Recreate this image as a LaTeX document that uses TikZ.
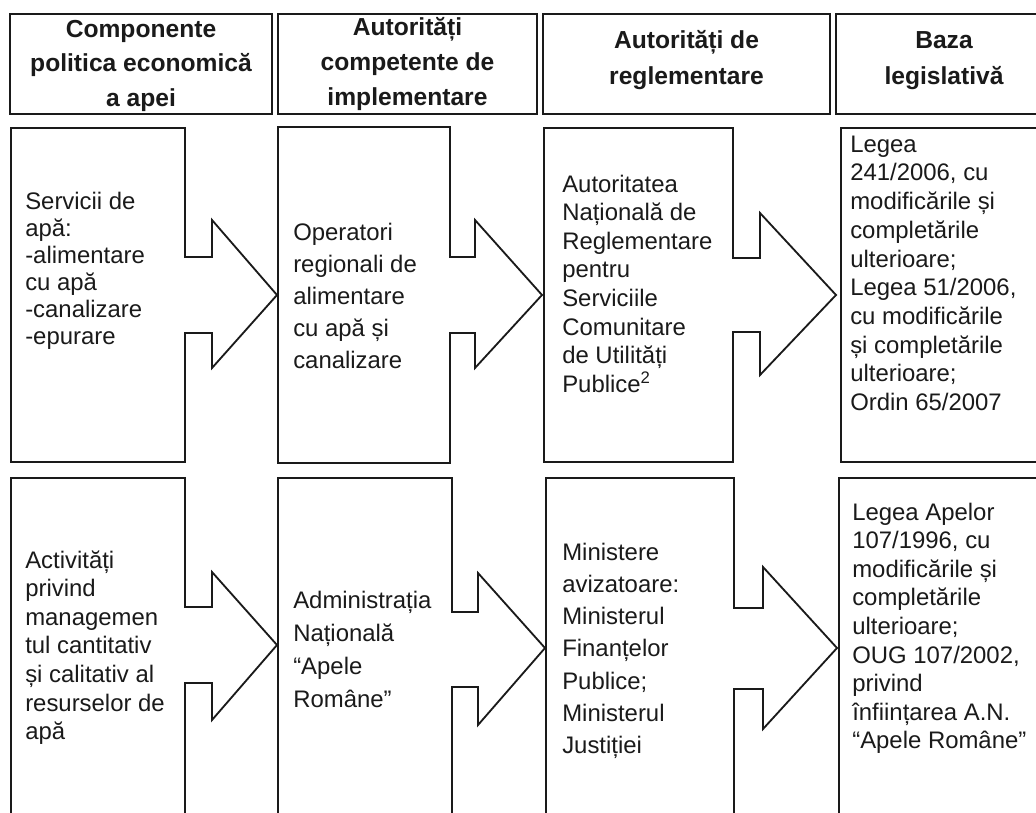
\documentclass[tikz,border=0pt]{standalone}
\usepackage{fontspec}
\setmainfont{Liberation Sans}
\definecolor{ink}{HTML}{1A1A1A}
\begin{document}
\begin{tikzpicture}[x=0.025cm,y=-0.025cm,
  shapeline/.style={draw=ink, line width=1.3pt, line join=miter, fill=white},
  headline/.style={draw=ink, line width=1.6pt},
  headtxt/.style={font=\fontsize{17.5}{#1}\selectfont\bfseries, anchor=north, inner sep=0pt, align=center, text=ink},
  bodytxt/.style={font=\fontsize{17}{#1}\selectfont, anchor=north west, inner sep=0pt, align=left, text=ink}]
\useasboundingbox (0,0) rectangle (1036,813);
\fill[white] (0,0) rectangle (1036,813);
\clip (0,0) rectangle (1036,813);

% header boxes
\draw[headline] (10,14) rectangle (272,114);
\draw[headline] (278,14) rectangle (537,114);
\draw[headline] (543,14) rectangle (830,114);
\draw[headline] (836,14) rectangle (1060,114);

\node[headtxt=24.6pt] (h1) at (141,16) {\rule{0pt}{15pt}Componente\\politica economică\\a apei};
\node[headtxt=24.8pt] (h2) at (407.5,14) {\rule{0pt}{15pt}Autorități\\competente de\\implementare};
\node[headtxt=25.6pt] (h3) at (686.5,27) {\rule{0pt}{15pt}Autorități de\\reglementare};
\node[headtxt=25.6pt] (h4) at (944,27) {\rule{0pt}{15pt}Baza\\legislativă};

% row 1 box-arrows
\draw[shapeline] (11,128) -- (185,128) -- (185,257) -- (212,257) -- (212,220) -- (277,295) -- (212,368) -- (212,333) -- (185,333) -- (185,462) -- (11,462) -- cycle;
\draw[shapeline] (278,127) -- (450,127) -- (450,257) -- (475,257) -- (475,220) -- (542,295) -- (475,368) -- (475,333) -- (450,333) -- (450,463) -- (278,463) -- cycle;
\draw[shapeline] (544,128) -- (733,128) -- (733,258) -- (760,258) -- (760,213) -- (836,295) -- (760,375) -- (760,332) -- (733,332) -- (733,462) -- (544,462) -- cycle;
\draw[shapeline] (841,128) rectangle (1060,462);

% row 2 box-arrows
\draw[shapeline] (11,478) -- (185,478) -- (185,607) -- (212,607) -- (212,572) -- (277,645) -- (212,720) -- (212,683) -- (185,683) -- (185,840) -- (11,840) -- cycle;
\draw[shapeline] (278,478) -- (452,478) -- (452,612) -- (478,612) -- (478,573) -- (545,648) -- (478,725) -- (478,687) -- (452,687) -- (452,840) -- (278,840) -- cycle;
\draw[shapeline] (546,478) -- (734,478) -- (734,608) -- (763,608) -- (763,567) -- (837,648) -- (763,729) -- (763,689) -- (734,689) -- (734,840) -- (546,840) -- cycle;
\draw[shapeline] (839,478) rectangle (1060,840);

% row 1 texts
\node[bodytxt=19.2pt] (t11) at (25,189.3) {\rule{0pt}{14pt}Servicii de\\apă:\\-alimentare\\cu apă\\-canalizare\\-epurare};
\node[bodytxt=22.8pt] (t12) at (293,220.3) {\rule{0pt}{14pt}Operatori\\regionali de\\alimentare\\cu apă și\\canalizare};
\node[bodytxt=20.3pt] (t13) at (562,172.3) {\rule{0pt}{14pt}Autoritatea\\Națională de\\Reglementare\\pentru\\Serviciile\\Comunitare\\de Utilități\\Publice\textsuperscript{2}};
\node[bodytxt=20.4pt] (t14) at (850,132.3) {\rule{0pt}{14pt}Legea\\241/2006, cu\\modificările și\\completările\\ulterioare;\\Legea 51/2006,\\cu modificările\\și completările\\ulterioare;\\Ordin 65/2007};

% row 2 texts
\node[bodytxt=20.3pt] (t21) at (25,548.3) {\rule{0pt}{14pt}Activități\\privind\\managemen\\tul cantitativ\\și calitativ al\\resurselor de\\apă};
\node[bodytxt=23.5pt] (t22) at (293,588.3) {\rule{0pt}{14pt}Administrația\\Națională\\“Apele\\Române”};
\node[bodytxt=22.9pt] (t23) at (562,540.3) {\rule{0pt}{14pt}Ministere\\avizatoare:\\Ministerul\\Finanțelor\\Publice;\\Ministerul\\Justiției};
\node[bodytxt=20.3pt] (t24) at (852,500.3) {\rule{0pt}{14pt}Legea Apelor\\107/1996, cu\\modificările și\\completările\\ulterioare;\\OUG 107/2002,\\privind\\înființarea A.N.\\“Apele Române”};
\end{tikzpicture}
\end{document}
